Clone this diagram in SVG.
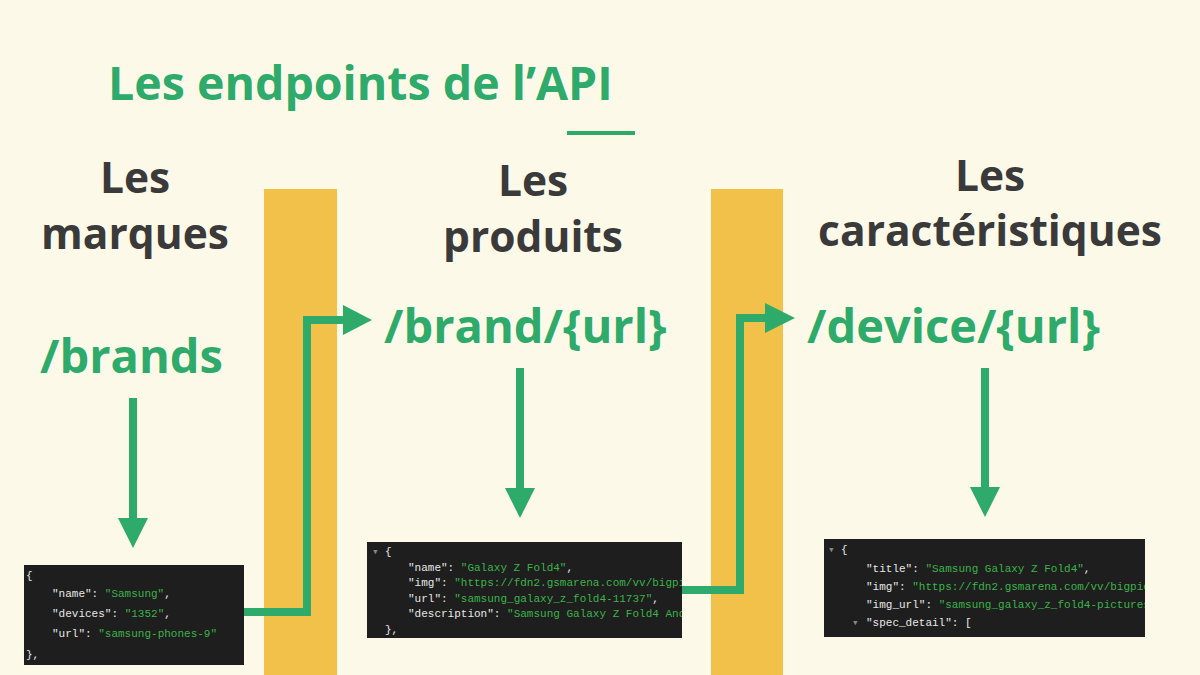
<svg xmlns="http://www.w3.org/2000/svg" width="1200" height="675" viewBox="0 0 1200 675">
<defs>
<style>
.t{font-family:"Open Sans","Liberation Sans",sans-serif;font-weight:bold;fill:#2eaa6a}
.h{font-family:"Open Sans","Liberation Sans",sans-serif;font-weight:bold;fill:#3a3a3a;font-size:42.5px;text-anchor:middle}
.c{font-family:"Liberation Mono",monospace;font-size:11px;fill:#e8e8e8}
.s{fill:#3cb34a}
.ln{stroke:#2eaa6a;stroke-width:8;fill:none}
.hd{fill:#2eaa6a}
.bar{fill:#f2c14a}
.box{fill:#1e1e1e}
</style>
<clipPath id="c2"><rect x="367" y="542" width="315" height="96"/></clipPath>
<clipPath id="c3"><rect x="824" y="539" width="321" height="98"/></clipPath>
</defs>
<rect width="1200" height="675" fill="#fdf9e8"/>
<text class="t" x="108" y="100" font-size="46.5">Les endpoints de l’API</text>
<rect x="567" y="131" width="68" height="4" fill="#2eaa6a"/>
<rect class="bar" x="264" y="189" width="73" height="486"/>
<rect class="bar" x="711" y="189" width="72" height="486"/>
<g id="col1">
<text class="h" x="135" y="193">Les</text><text class="h" x="135" y="249">marques</text>
<text class="t" x="40" y="373" font-size="47">/brands</text>
</g>
<g id="col2">
<text class="h" x="533" y="196">Les</text><text class="h" x="533" y="252">produits</text>
<text class="t" x="384" y="343" font-size="47">/brand/{url}</text>
</g>
<g id="col3">
<text class="h" x="990" y="191">Les</text><text class="h" x="990" y="246">caractéristiques</text>
<text class="t" x="807" y="343" font-size="47">/device/{url}</text>
</g>
<g id="json1">
<rect class="box" x="24" y="565" width="220" height="100"/>
<g class="c" font-size="12">
<text x="26" y="579">{</text>
<text x="52" y="597">"name": <tspan class="s">"Samsung"</tspan>,</text>
<text x="52" y="617">"devices": <tspan class="s">"1352"</tspan>,</text>
<text x="52" y="637">"url": <tspan class="s">"samsung-phones-9"</tspan></text>
<text x="26" y="658">},</text>
</g>
</g>
<g id="json2">
<rect class="box" x="367" y="542" width="315" height="96"/>
<g class="c" font-size="10" clip-path="url(#c2)">
<text x="372" y="555" fill="#888">▾</text><text x="385" y="555">{</text>
<text x="408" y="571">"name": <tspan class="s">"Galaxy Z Fold4"</tspan>,</text>
<text x="408" y="586">"img": <tspan class="s">"https://fdn2.gsmarena.com/vv/bigpic/samsung</tspan></text>
<text x="408" y="602">"url": <tspan class="s">"samsung_galaxy_z_fold4-11737"</tspan>,</text>
<text x="408" y="617">"description": <tspan class="s">"Samsung Galaxy Z Fold4 Android smartphone</tspan></text>
<text x="385" y="633">},</text>
</g>
</g>
<g id="json3">
<rect class="box" x="824" y="539" width="321" height="98"/>
<g class="c" font-size="10.5" clip-path="url(#c3)">
<text x="828" y="553" fill="#888">▾</text><text x="841" y="553">{</text>
<text x="866" y="572">"title": <tspan class="s">"Samsung Galaxy Z Fold4"</tspan>,</text>
<text x="866" y="590">"img": <tspan class="s">"https://fdn2.gsmarena.com/vv/bigpic</tspan></text>
<text x="866" y="608">"img_url": <tspan class="s">"samsung_galaxy_z_fold4-pictures</tspan></text>
<text x="852" y="626" fill="#888">▾</text><text x="866" y="626">"spec_detail": [</text>
</g>
</g>
<g id="connectors">
<path class="ln" d="M133,398V520"/><path class="hd" d="M118,518H148L133,548z"/>
<path class="ln" d="M520,368V490"/><path class="hd" d="M505,488H535L520,518z"/>
<path class="ln" d="M985,368V489"/><path class="hd" d="M970,487H1000L985,517z"/>
<path class="ln" d="M244,612H307V320H345"/><path class="hd" d="M343,305V335L372,320z"/>
<path class="ln" d="M682,590H740V318H767"/><path class="hd" d="M765,303V333L795,318z"/>
</g>
</svg>
